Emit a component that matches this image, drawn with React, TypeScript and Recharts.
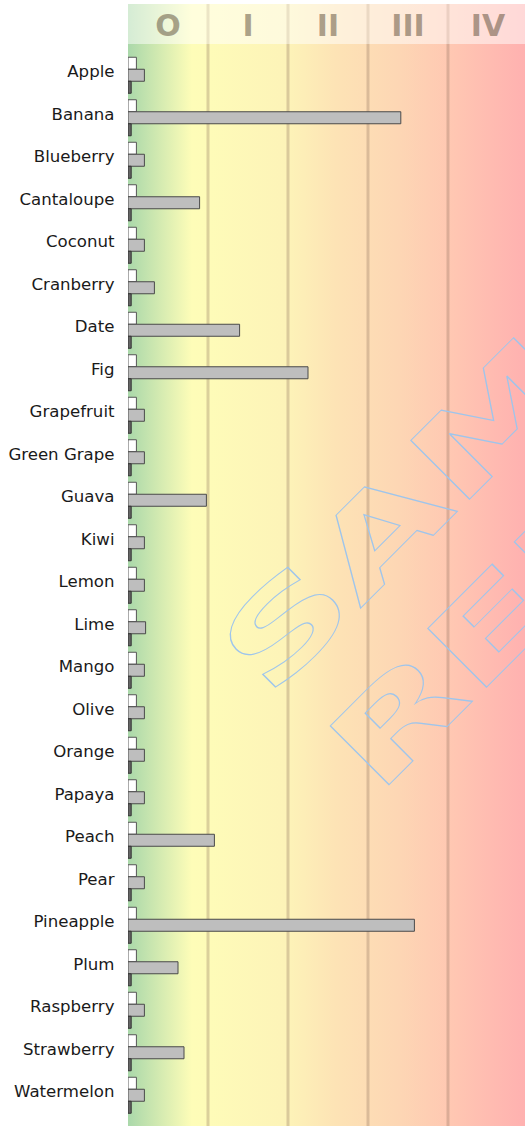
import React from 'react';
import { BarChart, Bar, XAxis, YAxis, CartesianGrid } from 'recharts';

const categories = ['Apple','Banana','Blueberry','Cantaloupe','Coconut','Cranberry','Date','Fig','Grapefruit','Green Grape','Guava','Kiwi','Lemon','Lime','Mango','Olive','Orange','Papaya','Peach','Pear','Pineapple','Plum','Raspberry','Strawberry','Watermelon'];
const mainValues = [4.1,68.2,4.1,17.9,4.1,6.6,27.9,45,4.1,4.1,19.6,4.1,4.1,4.4,4.1,4.1,4.1,4.1,21.6,4.1,71.6,12.5,4.1,14,4.1];
const markerValues = [2.1,2.1,2.1,2.1,2.1,2.1,2.1,2.1,2.1,2.1,2.1,2.1,2.1,2.1,2.1,2.1,2.1,2.1,2.1,2.1,2.1,2.1,2.1,2.1,2.1];
const baseValues = [0.8,0.8,0.8,0.8,0.8,0.8,0.8,0.8,0.8,0.8,0.8,0.8,0.8,0.8,0.8,0.8,0.8,0.8,0.8,0.8,0.8,0.8,0.8,0.8,0.8];
const bandStarts = [0, 20, 40, 60, 80];
const bandBounds = [20, 40, 60, 80];
const bandLabels = ['O', 'I', 'II', 'III', 'IV'];

const data = categories.map((name, i) => ({
  name,
  marker: markerValues[i],
  main: mainValues[i],
  base: baseValues[i],
}));

const CHART_W = 528;
const CHART_H = 1126;
const YAXIS_W = 128;
const HEADER_TOP = 4;
const HEADER_H = 40;
const BAND_W = (CHART_W - YAXIS_W) / bandLabels.length;
const LINE_COLOR = '#8c6e5a';

const HeaderTick = (props: any) => {
  const { x, index } = props;
  const label = bandLabels[index] ?? '';
  return (
    <g>
      <rect x={x} y={HEADER_TOP} width={BAND_W} height={HEADER_H} fill="#ffffff" fillOpacity={0.5} />
      {index > 0 && (
        <line x1={x} x2={x} y1={HEADER_TOP} y2={HEADER_TOP + HEADER_H}
          stroke={LINE_COLOR} strokeOpacity={0.17} strokeWidth={3} />
      )}
      <text x={x + BAND_W / 2} y={HEADER_TOP + 32} textAnchor="middle" fontFamily="DejaVu Sans" fontWeight="bold"
        fontSize={30} fill="#5a4a35" fillOpacity={0.5}>{label}</text>
    </g>
  );
};

const CategoryTick = (props: any) => {
  const { x, y, payload } = props;
  return (
    <text x={x} y={y - 4} dy="0.355em" textAnchor="end" fontFamily="DejaVu Sans" fontSize={16.6} fill="#1a1a1a">
      {payload?.value}
    </text>
  );
};

const gridXs = (props: any) => {
  const scale = props?.xAxis?.scale;
  if (typeof scale === 'function') return bandBounds.map((v) => scale(v));
  if (scale && typeof scale.map === 'function') return bandBounds.map((v) => scale.map(v));
  const off = props?.offset;
  return bandBounds.map((v) => off.left + (v / 100) * off.width);
};

export default function App() {
  return (
    <div style={{ position: 'absolute', left: 0, top: 0, width: 525, height: 1126, overflow: 'hidden' }}>
      <div style={{
        position: 'absolute', left: YAXIS_W, top: HEADER_TOP, width: CHART_W - YAXIS_W, height: CHART_H - HEADER_TOP,
        background: 'linear-gradient(to right, #aad8aa 0%, #fefdb8 16%, #fdf3b8 40%, #fde3b5 52%, #fdd6b4 68%, #ffc6b2 82%, #ffb0b0 100%)',
      }} />
      <div style={{ position: 'absolute', left: 0, top: 0 }}>
        <BarChart
          width={CHART_W}
          height={CHART_H}
          data={data}
          layout="vertical"
          margin={{ top: HEADER_TOP, right: 0, bottom: 0, left: 0 }}
          barCategoryGap={3.25}
          barGap={0}
        >
          <CartesianGrid horizontal={false} vertical={true} stroke={LINE_COLOR} strokeOpacity={0.3} strokeWidth={3}
            verticalCoordinatesGenerator={gridXs} />
          <XAxis type="number" orientation="top" domain={[0, 100]} ticks={bandStarts} allowDataOverflow
            height={HEADER_H} axisLine={false} tickLine={false} tick={<HeaderTick />} interval={0} />
          <YAxis type="category" dataKey="name" width={YAXIS_W} axisLine={false} tickLine={false}
            tickSize={0} tickMargin={13.5} interval={0} padding={{ top: 10, bottom: 9.5 }}
            tick={<CategoryTick />} />
          <Bar dataKey="marker" fill="#ffffff" stroke="#555555" strokeWidth={1} isAnimationActive={false} />
          <Bar dataKey="main" fill="#bebebe" stroke="#4a4a4a" strokeWidth={1} isAnimationActive={false} />
          <Bar dataKey="base" fill="#666666" stroke="#333333" strokeWidth={1} isAnimationActive={false} />
        </BarChart>
      </div>
      <svg width={525} height={1126} style={{ position: 'absolute', left: 0, top: 0, pointerEvents: 'none' }}>
        <g transform="rotate(-45) translate(101.6, 0) scale(1.57, 1)">
          <text x={0} y={685} textAnchor="middle" fontFamily="DejaVu Sans" fontWeight="bold" fontSize={114}
            fill="none" stroke="#9ec5ec" strokeWidth={1.2} vectorEffect="non-scaling-stroke">SAMPLE</text>
          <text x={0} y={830} textAnchor="middle" fontFamily="DejaVu Sans" fontWeight="bold" fontSize={114}
            fill="none" stroke="#9ec5ec" strokeWidth={1.2} vectorEffect="non-scaling-stroke">REPORT</text>
        </g>
      </svg>
    </div>
  );
}
